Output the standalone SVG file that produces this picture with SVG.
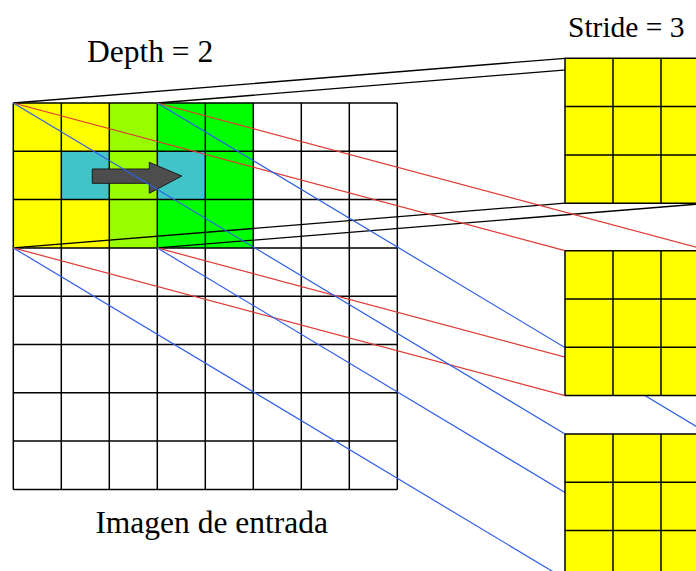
<svg xmlns="http://www.w3.org/2000/svg" xmlns:xlink="http://www.w3.org/1999/xlink" width="696" height="571" viewBox="0 0 696 571">
<style>
.lbl{font-family:"Liberation Serif","Times New Roman",serif;font-size:31.5px;fill:#000}
.grid{fill:none;stroke:#000;stroke-width:1.5}
.blk{stroke:#000;stroke-width:1.3;fill:none}
.red{stroke:#E03A35;stroke-width:1.2;fill:none}
.blue{stroke:#2F5FE6;stroke-width:1.2;fill:none}
.y{fill:#FFFF00}.lg{fill:#99FF00}.g{fill:#00FF00}.c{fill:#40C4C8}
</style>
<defs>
<g id="outgridShape">
<rect x="0" y="0" width="144" height="145" class="y"/>
<path class="grid" d="M0 0H144M0 48.3H144M0 96.6H144M0 144.9H144M0 0V144.9M48 0V144.9M96 0V144.9M144 0V144.9"/>
</g>
</defs>
<rect width="696" height="571" fill="#fff"/>
<g id="input-image">
<rect x="13.3" y="103" width="96" height="144.9" class="y"/>
<rect x="109.3" y="103" width="48" height="144.9" class="lg"/>
<rect x="157.3" y="103" width="96" height="144.9" class="g"/>
<rect x="61.3" y="151.3" width="48" height="48.3" class="c"/>
<rect x="157.3" y="151.3" width="48" height="48.3" class="c"/>
<path class="grid" d="M13.3 103H397.3M13.3 151.3H397.3M13.3 199.6H397.3M13.3 247.9H397.3M13.3 296.2H397.3M13.3 344.5H397.3M13.3 392.8H397.3M13.3 441.1H397.3M13.3 489.4H397.3M13.3 103V489.4M61.3 103V489.4M109.3 103V489.4M157.3 103V489.4M205.3 103V489.4M253.3 103V489.4M301.3 103V489.4M349.3 103V489.4M397.3 103V489.4"/>
<path id="stride-arrow" d="M92.3 169H149.3V162.3L181.7 176L149.3 193.3V183.3H92.3Z" fill="#4D4D4D" stroke="#1a1a1a" stroke-width="1"/>
</g>
<g id="connectors">
<path class="blk" d="M13.3 103L565 58.3M157.3 103L709 58.3M13.3 247.9L565 203.2M157.3 247.9L709 203.2"/>
<path class="red" d="M13.3 103L565 250.7M157.3 103L709 250.7M13.3 247.9L565 395.6M157.3 247.9L709 395.6"/>
<path class="blue" d="M13.3 103L565 434M157.3 103L709 434M13.3 247.9L565 578.9M157.3 247.9L709 578.9"/>
</g>
<g id="output-map-1"><use xlink:href="#outgridShape" href="#outgridShape" x="565" y="58.3"/></g>
<g id="output-map-2"><use xlink:href="#outgridShape" href="#outgridShape" x="565" y="250.7"/></g>
<g id="output-map-3"><use xlink:href="#outgridShape" href="#outgridShape" x="565" y="434"/></g>
<g id="labels">
<text class="lbl" x="87" y="62.3">Depth = 2</text>
<text class="lbl" x="568" y="37.3" style="font-size:29.5px">Stride = 3</text>
<text class="lbl" x="211.7" y="533.3" text-anchor="middle">Imagen de entrada</text>
</g>
</svg>
